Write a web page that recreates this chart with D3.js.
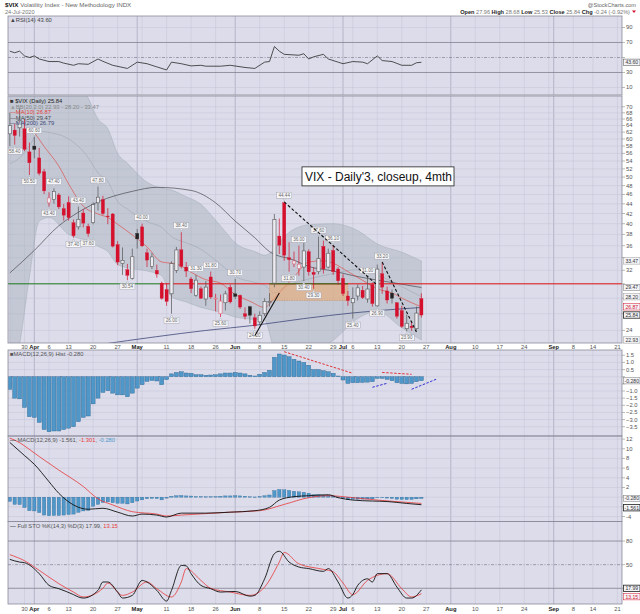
<!DOCTYPE html>
<html>
<head>
<meta charset="utf-8">
<style>
  body { margin: 0; background: #fff; }
  svg { display: block; font-family: 'Liberation Sans', Arial, sans-serif; }
</style>
</head>
<body>
<svg width="640" height="614"></svg>
<script src="https://d3js.org/d3.v7.min.js"></script>
<script>
// ---- daily candles, Mar 25 .. Jul 24 2020 (one entry per trading day)
const opens  = [61.5,62.6,63.3,63.0,56.4,58.0,54.8,51.3,44.2,44.9,45.9,43.0,44.3,40.2,39.4,42.1,39.5,40.2,44.2,44.9,
                41.5,41.9,36.2,33.1,32.1,30.8,38.2,39.4,34.8,32.6,32.0,30.1,29.2,28.6,32.0,35.3,32.5,30.7,28.4,29.3,
                27.9,31.0,27.9,26.0,27.4,29.5,28.6,28.4,26.0,26.9,25.5,25.0,26.0,27.5,30.1,37.7,44.2,34.0,33.0,32.3,
                32.5,35.0,31.7,31.8,35.9,32.5,35.2,32.2,30.8,28.3,27.4,28.3,29.1,27.9,29.9,27.0,31.5,29.0,28.7,27.4,
                26.4,24.2,24.5,24.2,27.96];
const highs  = [68.0,64.5,69.5,66.0,59.0,60.6,57.5,52.0,46.5,47.4,46.3,44.0,45.6,40.8,43.4,42.9,40.0,44.3,47.8,45.7,
                43.1,42.1,36.8,35.7,33.0,35.5,39.0,40.0,35.5,34.8,32.9,30.3,30.1,33.4,35.8,38.4,33.3,31.0,31.3,29.6,
                30.4,31.8,28.6,28.5,29.0,29.9,30.7,28.5,26.8,27.0,26.0,26.3,28.0,28.7,41.9,41.0,44.44,36.6,35.0,36.0,
                36.5,35.4,32.5,37.6,36.9,35.5,36.1,32.5,31.4,29.0,29.5,29.9,29.7,31.0,30.2,32.9,33.2,29.6,29.2,27.5,
                27.0,25.9,25.1,26.9,28.68];
const lows   = [58.0,58.4,60.7,56.6,50.5,54.7,50.4,46.1,43.4,44.0,42.9,40.6,40.6,37.4,38.9,39.3,37.6,39.9,42.6,41.7,
                39.9,35.7,32.8,31.3,30.54,30.6,35.5,35.8,32.5,32.2,30.9,27.8,27.0,26.0,31.6,32.3,31.0,28.7,28.2,27.9,
                27.0,27.9,26.3,25.6,26.4,27.3,27.9,26.6,25.3,24.8,24.2,24.6,25.7,26.9,29.5,34.6,33.5,31.8,32.5,31.2,
                30.4,31.2,29.3,31.4,31.5,32.3,31.3,29.9,28.3,27.0,25.4,27.7,27.9,27.4,26.9,26.9,28.6,27.3,27.3,25.4,
                24.3,23.9,23.95,24.0,25.53];
const closes = [63.95,61.00,65.54,57.08,53.54,57.06,50.91,46.80,45.24,46.70,43.35,41.67,41.17,37.76,40.84,40.11,38.15,43.83,45.41,41.98,
                41.38,35.93,33.29,33.57,31.23,34.15,37.19,35.97,33.61,34.12,31.44,27.98,27.57,33.04,35.28,32.61,31.89,29.30,30.53,27.99,
                29.53,28.16,28.01,27.62,28.59,27.51,28.23,26.84,25.66,25.81,24.52,25.81,27.57,27.57,40.79,36.09,34.40,33.67,33.47,32.94,
                35.12,31.77,31.37,33.84,32.22,34.73,31.78,30.43,28.62,27.68,27.94,29.43,28.08,29.26,27.29,32.19,29.52,27.76,28.00,25.68,
                24.46,24.84,24.32,26.08,25.84];
const prevClose = 61.67;

// ---- swing high / low tags
const swingDates = ["03-26","03-31","04-01","04-06","04-07","04-14","04-15","04-17","04-21","04-29","05-04","05-12","05-14","05-19","05-22",
                    "05-27","06-01","06-05","06-15","06-16","06-18","06-19","06-23","06-24","06-29","07-06","07-09","07-13","07-14","07-21"];
const swingKinds = ["L","L","H","L","H","L","H","L","H","L","H","L","H","H","H",
                    "L","H","L","H","L","H","L","L","H","H","L","H","L","H","L"];

// ---- overlays
const ma10 = [["04-01",61.9],["04-03",57.9],["04-08",52.7],["04-13",48.4],["04-16",43.5],["04-21",41.9],
              ["04-23",41.2],["04-27",39.9],["04-30",37.9],["05-05",35.8],["05-08",33.3],["05-13",33.0],["05-18",31.7],["05-21",30.6],
              ["05-27",30.1],["06-01",28.5],["06-04",27.6],["06-09",26.8],["06-11",28.0],["06-15",29.5],["06-17",31.0],["06-22",33.3],
              ["06-25",33.5],["06-29",33.1],["07-02",31.8],["07-08",30.5],["07-13",29.3],["07-16",28.7],["07-21",27.7],["07-24",26.87]];
const ma50 = [["03-25",31.6],["04-01",35.2],["04-08",39.6],["04-13",41.0],["04-21",44.4],["04-30",46.7],["05-07",47.6],["05-18",46.9],
              ["05-26",44.2],["06-01",40.5],["06-05",37.4],["06-10",35.0],["06-17",33.6],["06-22",32.6],["06-29",31.9],["07-06",31.2],
              ["07-15",30.3],["07-24",29.47]];
const ma200 = [["03-25",20.9],["04-21",22.4],["05-07",23.3],["05-21",24.0],["06-05",24.6],["06-19",25.4],["07-06",26.1],["07-24",26.79]];

const bbDates = ["03-25","03-27","03-31","04-02","04-06","04-13","04-17","04-21","04-23","04-27","04-29","05-05","05-08","05-12","05-15",
                 "05-20","05-22","05-28","06-01","06-05","06-09","06-11","06-15","06-22","06-29","07-07","07-13","07-20","07-24"];
const bbUpper = [87.6,87.0,85.0,84.0,82.6,82.0,73.0,66.0,63.0,56.0,53.4,48.8,47.4,47.0,45.5,
                 43.9,41.8,38.5,36.5,35.0,34.4,35.4,37.6,39.8,40.0,38.7,36.3,34.9,33.47];
const bbMid   = [53.3,54.8,58.0,62.3,61.9,60.0,54.9,51.0,49.0,44.5,42.9,40.4,39.3,37.6,36.5,
                 35.4,34.2,32.3,31.1,30.2,29.8,28.7,29.5,30.7,31.5,32.1,31.3,29.6,28.20];
const bbLower = [19.0,22.5,31.0,40.5,41.2,38.0,36.8,35.9,35.0,32.9,32.4,31.9,31.2,28.2,27.5,
                 26.8,26.5,26.0,25.6,25.3,25.2,22.0,21.4,21.6,22.9,25.4,26.3,24.3,22.93];

// ---- RSI(14)
const rsi = [["03-25",58.4],["03-26",56.3],["03-27",58.4],["03-30",52.1],["03-31",50.0],["04-01",52.1],["04-02",48.0],["04-06",44.6],
             ["04-08",44.6],["04-09",42.5],["04-14",39.6],["04-15",41.7],["04-17",40.9],["04-21",48.0],["04-22",44.9],["04-24",39.6],
             ["04-29",35.4],["05-01",43.8],["05-05",41.7],["05-07",37.5],["05-11",33.4],["05-12",43.8],["05-14",41.7],["05-18",38.8],
             ["05-20",39.6],["05-21",38.4],["05-27",38.4],["05-29",39.6],["06-03",36.7],["06-05",35.4],["06-09",43.8],["06-10",44.6],
             ["06-11",64.6],["06-12",58.4],["06-15",54.2],["06-18",53.0],["06-19",55.0],["06-22",48.0],["06-23",50.9],["06-25",54.2],
             ["06-26",48.0],["06-30",43.8],["07-01",41.7],["07-06",44.6],["07-08",43.8],["07-09",41.7],["07-13",52.1],["07-14",45.9],
             ["07-16",44.6],["07-20",39.6],["07-22",39.6],["07-23",43.0],["07-24",43.6]];

// ---- MACD(12,26,9)
const macdHist = [-0.88,-1.5,-1.55,-2.15,-2.8,-2.85,-3.2,-3.7,-3.85,-3.8,
                  -3.8,-3.7,-3.6,-3.5,-3.15,-2.85,-2.75,-1.9,-1.5,-1.1,
                  -0.98,-1.15,-1.27,-1.27,-1.4,-1.15,-0.8,-0.56,-0.33,-0.26,
                  -0.3,-0.56,-0.2,0.2,0.3,0.35,0.26,0.24,0.14,0.14,
                  0.1,0.12,0.14,0.2,0.26,0.26,0.3,0.26,0.2,0.1,
                  0.05,0.17,0.3,0.45,1.36,1.59,1.52,1.4,1.22,1.1,
                  1.0,0.8,0.5,0.5,0.42,0.35,0.24,0.05,-0.23,-0.47,
                  -0.42,-0.42,-0.4,-0.38,-0.35,-0.12,-0.12,-0.19,-0.28,-0.42,
                  -0.47,-0.5,-0.47,-0.35,-0.28];
const macdLine = [["03-25",11.3],["03-30",8.6],["04-01",6.8],["04-06",3.2],["04-08",0.8],["04-14",-1.6],["04-17",-2.5],["04-22",-2.3],
                  ["04-27",-3.1],["04-30",-3.9],["05-04",-3.5],["05-07",-3.7],["05-11",-4.1],["05-14",-3.3],["05-21",-3.3],["05-29",-3.1],
                  ["06-05",-2.8],["06-10",-2.1],["06-12",-0.6],["06-17",0.1],["06-22",0.3],["06-26",0.5],["06-30",-0.1],["07-06",-0.6],
                  ["07-10",-0.8],["07-15",-0.9],["07-21",-1.3],["07-24",-1.561]];
const macdSignal = [["03-25",12.2],["03-26",11.8],["04-02",8.4],["04-08",5.6],["04-16",2.2],["04-21",-0.35],["04-24",-1.6],["04-30",-3.0],
                    ["05-07",-3.5],["05-11",-3.9],["05-14",-3.7],["05-21",-3.4],["05-29",-3.1],["06-08",-2.8],["06-15",-1.5],["06-22",-0.1],
                    ["06-26",0.3],["07-06",-0.1],["07-13",-0.6],["07-20",-1.0],["07-24",-1.301]];

// ---- Full STO %K(14,3) %D(3)
const stoK = [["03-25",56.7],["03-27",53.3],["03-30",52.5],["04-02",38.6],["04-06",23.7],["04-08",19.5],["04-14",12],["04-15",9],
              ["04-16",7.6],["04-21",17.4],["04-22",28],["04-23",28],["04-27",15.2],["04-28",7.6],["04-30",11],["05-04",30],
              ["05-05",28],["05-07",17.4],["05-11",3.8],["05-12",17.4],["05-14",49],["05-15",48.5],["05-18",38.6],["05-20",23.7],
              ["05-22",19.5],["05-27",15.2],["06-01",16],["06-04",10],["06-05",11],["06-09",32],["06-11",64],["06-12",67],
              ["06-16",53.3],["06-18",47],["06-22",45],["06-25",41.5],["06-26",45],["06-30",28],["07-02",7.6],["07-06",12],
              ["07-07",23.7],["07-09",32],["07-10",28],["07-13",38.6],["07-15",38.6],["07-17",21.6],["07-21",7.6],["07-22",7.6],
              ["07-24",17.99]];
const stoD = [["03-25",62.7],["03-30",55],["04-02",42.8],["04-08",25.9],["04-14",15.2],["04-16",9],["04-22",20],["04-23",26.7],
              ["04-28",11],["04-30",15.2],["05-05",28],["05-07",19.5],["05-12",9],["05-14",28],["05-15",45],["05-20",30],
              ["05-22",20],["05-29",15.2],["06-04",11],["06-09",21.6],["06-12",53.3],["06-15",65.5],["06-18",51],["06-25",44],
              ["06-29",41],["07-01",26.7],["07-06",12],["07-09",30],["07-15",38.6],["07-20",19.5],["07-22",9],["07-24",13.15]];

// ---- annotations drawn on the chart
const trendUp = [["06-05",23.4],["06-12",28.7]];
const trendDown1 = [["06-15",44.4],["07-13",29.8]];
const trendDown2 = [["07-14",33.3],["07-23",23.8]];
const histRed1 = [["06-15",1.75],["07-06",0.24]];
const histRed2 = [["07-14",0.3],["07-22",0.17]];
const histBlue1 = [["07-10",-0.74],["07-15",-0.46]];
const histBlue2 = [["07-22",-0.88],["07-29",-0.18]];
const zoneDates = ["06-10","07-02"];
const zoneValues = [30, 27.7];
const level = 30;
const levelSwitch = "05-08";

// ---- date axis
const tickDates  = ["03-30","04-01","04-06","04-13","04-20","04-27","05-01","05-11","05-18","05-26","06-01","06-08","06-15","06-22",
                    "06-29","07-01","07-06","07-13","07-20","07-27","08-03","08-10","08-17","08-24","09-01","09-08","09-14","09-21"];
const tickLabels = ["30","Apr","6","13","20","27","May","11","18","26","Jun","8","15","22",
                    "29","Jul","6","13","20","27","Aug","10","17","24","Sep","8","14","21"];
const extraGrid = ["05-04","08-31"];
const holidays = ["2020-04-10","2020-05-25","2020-07-03","2020-09-07"];

// trading calendar
const days = [];
for (let d = new Date(Date.UTC(2020, 2, 25)); d <= new Date(Date.UTC(2020, 8, 22)); d.setUTCDate(d.getUTCDate() + 1)) {
  const wd = d.getUTCDay();
  const iso = d.toISOString().slice(0, 10);
  if (wd === 0 || wd === 6 || holidays.includes(iso)) continue;
  days.push(iso.slice(5));
}

const svg = d3.select("svg");
const L = 8, R = 622;
const x = d3.scaleLinear().domain([-0.37, days.length - 1.06]).range([L, R]);
const xd = d => x(days.indexOf(d));

const panels = {
  rsi:  {top: 16,    bottom: 95},
  main: {top: 96,    bottom: 343},
  hist: {top: 350,   bottom: 436},
  macd: {top: 436,   bottom: 521.5},
  sto:  {top: 521.5, bottom: 604}
};
const yRsi  = d3.scaleLinear().domain([0, 105.3]).range([95, 16]);
const yMain = d3.scaleLog().domain([22.6, 73.7]).range([343, 96]);
const yHist = d3.scaleLinear().domain([-4.15, 1.87]).range([436, 350]);
const yMacd = d3.scaleLinear().domain([-5.03, 12.64]).range([521.5, 436]);
const ySto  = d3.scaleLinear().domain([0.06, 104.8]).range([604, 521.5]);

const BG = "#dcdcea", GRID = "#c4c4d8", RED = "#d4102c";

// value boxes on the right axis: [scale, value, label, colour, strong, nudge]
const boxes = {
  main: [[yMain, 33.47, "33.47", "#999"], [yMain, 29.47, "29.47", "#777"], [yMain, 28.20, "28.20", "#999"],
         [yMain, 26.87, "26.87", RED], [yMain, 25.84, "25.84", "#222", true], [yMain, 22.93, "22.93", "#999"]],
  rsi:  [[yRsi, 43.60, "43.60", "#444"]],
  hist: [[yHist, -0.280, "-0.280", "#777"]],
  macd: [[yMacd, -0.280, "-0.280", "#777"], [yMacd, -1.561, "-1.561", "#222", true, 3]],
  sto:  [[ySto, 17.99, "17.99", "#222", true, -1.5], [ySto, 13.15, "13.15", RED, false, 3]]
};
const boxY = b => b[0](b[1]) + (b[5] || 0);

const defs = svg.append("defs");
Object.entries(panels).forEach(([k, p]) => {
  defs.append("clipPath").attr("id", "clip-" + k)
    .append("rect").attr("x", L).attr("y", p.top).attr("width", R - L).attr("height", p.bottom - p.top);
  svg.append("rect").attr("x", L).attr("y", p.top).attr("width", R - L).attr("height", p.bottom - p.top)
    .attr("fill", BG);
});

// vertical grid
const monthStarts = ["04-01","05-01","06-01","07-01","08-03","09-01"];
const gridG = svg.append("g");
tickDates.concat(extraGrid).forEach(d => {
  const month = monthStarts.includes(d);
  Object.values(panels).forEach(p => {
    gridG.append("line").attr("x1", xd(d)).attr("x2", xd(d)).attr("y1", p.top).attr("y2", p.bottom)
      .attr("stroke", month ? "#a4a4ba" : GRID).attr("stroke-width", month ? 0.7 : 0.5);
  });
});

function hGrid(y, vals, color, width, dash) {
  vals.forEach(v => {
    gridG.append("line").attr("x1", L).attr("x2", R).attr("y1", y(v)).attr("y2", y(v))
      .attr("stroke", color || GRID).attr("stroke-width", width || 0.5)
      .attr("stroke-dasharray", dash || null);
  });
}
function rightLabels(y, vals, key, fmt) {
  const taken = boxes[key].map(boxY);
  vals.forEach(v => {
    svg.append("line").attr("x1", R).attr("x2", R + 3).attr("y1", y(v)).attr("y2", y(v))
      .attr("stroke", "#777").attr("stroke-width", 0.5);
    if (taken.some(t => Math.abs(t - y(v)) < 6)) return;
    svg.append("text").attr("x", R + 4).attr("y", y(v) + 2).attr("font-size", 5.8).attr("fill", "#555")
      .text(fmt ? fmt(v) : v);
  });
}

const mainTicks = d3.range(24, 71, 2);
hGrid(yMain, mainTicks);
hGrid(yRsi, [10, 90]);
hGrid(yRsi, [30, 70], "#80808f", 0.8);
hGrid(yRsi, [50], "#80808f", 0.7, "3,1.5,1,1.5");
const histTicks = [-3.5,-3,-2.5,-2,-1.5,-1,-0.5,0,0.5,1,1.5];
hGrid(yHist, histTicks);
const macdTicks = [-4,-2,0,2,4,6,8,10,12];
hGrid(yMacd, macdTicks);
hGrid(ySto, [20, 80], "#80808f", 0.8);
hGrid(ySto, [50], "#80808f", 0.7, "3,1.5,1,1.5");

rightLabels(yRsi, [10, 30, 50, 70, 90], "rsi");
rightLabels(yMain, mainTicks, "main");
rightLabels(yHist, histTicks, "hist", d3.format(".1f"));
rightLabels(yMacd, macdTicks, "macd");
rightLabels(ySto, [20, 50, 80], "sto");

function pairPath(g, pts, y, color, width, curve, dash) {
  return g.append("path").datum(pts)
    .attr("d", d3.line().x(p => xd(p[0])).y(p => y(p[1])).curve(curve || d3.curveMonotoneX))
    .attr("fill", "none").attr("stroke", color).attr("stroke-width", width)
    .attr("stroke-dasharray", dash || null);
}

// ---------- main panel
const gm = svg.append("g").attr("clip-path", "url(#clip-main)");
const bbIdx = d3.range(bbDates.length);
gm.append("path").datum(bbIdx)
  .attr("d", d3.area().x(i => xd(bbDates[i])).y0(i => yMain(bbLower[i])).y1(i => yMain(bbUpper[i])).curve(d3.curveMonotoneX))
  .attr("fill", "#a9b3bd").attr("fill-opacity", 0.5).attr("stroke", "#9aa3ad").attr("stroke-width", 0.4);
gm.append("path").datum(bbIdx)
  .attr("d", d3.line().x(i => xd(bbDates[i])).y(i => yMain(bbMid[i])).curve(d3.curveMonotoneX))
  .attr("fill", "none").attr("stroke", "#a0a8b2").attr("stroke-width", 0.6);

pairPath(gm, ma200, yMain, "#404878", 0.8);
pairPath(gm, ma50, yMain, "#4a4a52", 0.7);
pairPath(gm, ma10, yMain, "#e0403a", 0.6);

// support zone
gm.append("rect").attr("x", xd(zoneDates[0])).attr("y", yMain(zoneValues[0]))
  .attr("width", xd(zoneDates[1]) - xd(zoneDates[0])).attr("height", yMain(zoneValues[1]) - yMain(zoneValues[0]))
  .attr("fill", "#f0a868").attr("fill-opacity", 0.55).attr("stroke", "#c08860").attr("stroke-width", 0.5)
  .attr("stroke-dasharray", "1.5,1");

// level line
gm.append("line").attr("x1", L).attr("x2", xd(levelSwitch)).attr("y1", yMain(level)).attr("y2", yMain(level))
  .attr("stroke", "#1f7a1f").attr("stroke-width", 1);
gm.append("line").attr("x1", xd(levelSwitch)).attr("x2", R).attr("y1", yMain(level)).attr("y2", yMain(level))
  .attr("stroke", "#e01010").attr("stroke-width", 1);
gm.append("line").attr("x1", xd(zoneDates[0])).attr("x2", xd(zoneDates[1])).attr("y1", yMain(level)).attr("y2", yMain(level))
  .attr("stroke", "#1f7a1f").attr("stroke-width", 1);

// candles
const bw = 3.2;
closes.forEach((c, i) => {
  const o = opens[i], pc = i === 0 ? prevClose : closes[i - 1];
  const down = c < pc;
  const filled = c < o;
  const col = down ? RED : "#222";
  const cx = x(i);
  const top = yMain(Math.max(o, c)), bot = yMain(Math.min(o, c));
  gm.append("line").attr("x1", cx).attr("x2", cx).attr("y1", yMain(highs[i])).attr("y2", top)
    .attr("stroke", down ? RED : "#555").attr("stroke-width", 0.7);
  gm.append("line").attr("x1", cx).attr("x2", cx).attr("y1", bot).attr("y2", yMain(lows[i]))
    .attr("stroke", down ? RED : "#555").attr("stroke-width", 0.7);
  gm.append("rect").attr("x", cx - bw / 2).attr("y", top).attr("width", bw).attr("height", Math.max(0.8, bot - top))
    .attr("fill", filled ? col : "#ececf2").attr("stroke", filled ? col : (down ? "#e07080" : "#555"))
    .attr("stroke-width", filled ? 0.3 : 0.6);
});

// swing tags
swingDates.forEach((d, k) => {
  const i = days.indexOf(d), hi = swingKinds[k] === "H";
  const v = hi ? highs[i] : lows[i];
  const cx = x(i), cy = yMain(v);
  const by = hi ? cy - 9.5 : cy + 3.5;
  gm.append("path")
    .attr("d", hi ? `M${cx - 1.5},${cy - 3.6}L${cx + 1.5},${cy - 3.6}L${cx},${cy - 1.2}Z`
                  : `M${cx - 1.5},${cy + 3.6}L${cx + 1.5},${cy + 3.6}L${cx},${cy + 1.2}Z`)
    .attr("fill", "#f4f4f8").attr("stroke", "#9a9aa6").attr("stroke-width", 0.4);
  gm.append("rect").attr("x", cx - 7.5).attr("y", by).attr("width", 15).attr("height", 6)
    .attr("fill", "#f6f6f9").attr("stroke", "#9a9aa6").attr("stroke-width", 0.4);
  gm.append("text").attr("x", cx).attr("y", by + 4.6).attr("text-anchor", "middle")
    .attr("font-size", 4.6).attr("fill", "#666").text(d3.format(".2f")(v));
});

// trend lines
pairPath(gm, trendUp, yMain, "#111", 1.1, d3.curveLinear);
pairPath(gm, trendDown1, yMain, "#111", 1.1, d3.curveLinear, "3,2");
pairPath(gm, trendDown2, yMain, "#111", 1.1, d3.curveLinear, "3,2");

// note box
const noteX = xd("06-19") - 1.8, noteY = yMain(52.5);
gm.append("rect").attr("x", noteX).attr("y", noteY).attr("width", 152).attr("height", 19)
  .attr("fill", "#fff").attr("stroke", "#222").attr("stroke-width", 0.8);
gm.append("text").attr("x", noteX + 3).attr("y", noteY + 14).attr("font-size", 12).attr("fill", "#111")
  .text("VIX - Daily'3, closeup, 4mth");

// legend
const lg = svg.append("g");
const legRows = [
  [{t: "\u25A0 ", c: "#333"}, {t: "$VIX (Daily) 25.84", c: "#222"}],
  [{t: "\u25B2", c: "#999"}, {t: "BB(20,2.0) 22.93 - 28.20 - 33.47", c: "#888"}],
  [{t: "\u2014", c: "#e0403a"}, {t: "MA(10) 26.87", c: "#e0403a"}],
  [{t: "\u2014", c: "#4a4a52"}, {t: "MA(50) 29.47", c: "#4a4a52"}],
  [{t: "\u2014", c: "#404878"}, {t: "MA(200) 26.79", c: "#404878"}]
];
legRows.forEach((row, r) => {
  const t = lg.append("text").attr("x", 10).attr("y", 103 + r * 5.6).attr("font-size", 5.8);
  row.forEach(s => t.append("tspan").attr("fill", s.c).text(s.t));
});

// ---------- RSI
const gr = svg.append("g").attr("clip-path", "url(#clip-rsi)");
pairPath(gr, rsi, yRsi, "#2a2a2a", 0.8, d3.curveLinear);
svg.append("text").attr("x", 10).attr("y", 22).attr("font-size", 5.8).attr("fill", "#444")
  .text("\u25B2RSI(14) 43.60");

// ---------- MACD histogram panel
const gh = svg.append("g").attr("clip-path", "url(#clip-hist)");
macdHist.forEach((v, i) => {
  gh.append("rect").attr("x", x(i) - 2).attr("width", 4)
    .attr("y", yHist(Math.max(0, v))).attr("height", Math.abs(yHist(v) - yHist(0)))
    .attr("fill", "#4f97c9").attr("stroke", "#2d6390").attr("stroke-width", 0.4);
});
pairPath(gh, histRed1, yHist, "#e02020", 0.9, d3.curveLinear, "2.5,1.5");
pairPath(gh, histRed2, yHist, "#e02020", 0.9, d3.curveLinear, "2.5,1.5");
pairPath(gh, histBlue1, yHist, "#2020d0", 0.9, d3.curveLinear, "2.5,1.5");
pairPath(gh, histBlue2, yHist, "#2020d0", 0.9, d3.curveLinear, "2.5,1.5");
svg.append("text").attr("x", 10).attr("y", 356).attr("font-size", 5.8).attr("fill", "#555")
  .text("\u25A0MACD(12,26,9) Hist -0.280");

// ---------- MACD panel
const gc = svg.append("g").attr("clip-path", "url(#clip-macd)");
macdHist.forEach((v, i) => {
  gc.append("rect").attr("x", x(i) - 1.7).attr("width", 3.4)
    .attr("y", yMacd(Math.max(0, v))).attr("height", Math.max(0.6, Math.abs(yMacd(v) - yMacd(0))))
    .attr("fill", "#4f97c9").attr("stroke", "#2d6390").attr("stroke-width", 0.3);
});
pairPath(gc, macdSignal, yMacd, "#e83838", 0.8);
pairPath(gc, macdLine, yMacd, "#111", 0.9);
const mt = svg.append("text").attr("x", 10).attr("y", 442).attr("font-size", 5.8);
mt.append("tspan").attr("fill", "#111").text("\u2014");
mt.append("tspan").attr("fill", "#555").text(" MACD(12,26,9) -1.561, ");
mt.append("tspan").attr("fill", "#e83838").text("-1.301");
mt.append("tspan").attr("fill", "#555").text(", ");
mt.append("tspan").attr("fill", "#4f97c9").text("-0.280");

// ---------- STO panel
const gs = svg.append("g").attr("clip-path", "url(#clip-sto)");
pairPath(gs, stoD, ySto, "#e83838", 0.8);
pairPath(gs, stoK, ySto, "#111", 0.9);
const st = svg.append("text").attr("x", 10).attr("y", 528).attr("font-size", 5.8);
st.append("tspan").attr("fill", "#111").text("\u2014");
st.append("tspan").attr("fill", "#555").text(" Full STO %K(14,3) %D(3) 17.99, ");
st.append("tspan").attr("fill", "#e83838").text("13.15");

// panel borders
Object.values(panels).forEach(p => {
  svg.append("rect").attr("x", L).attr("y", p.top).attr("width", R - L).attr("height", p.bottom - p.top)
    .attr("fill", "none").attr("stroke", "#8a8a9c").attr("stroke-width", 0.8);
});

// right value boxes
Object.values(boxes).forEach(list => list.forEach(b => {
  const yv = boxY(b), color = b[3], strong = b[4];
  svg.append("rect").attr("x", R + 1.5).attr("y", yv - 3.2).attr("width", 16.5).attr("height", 6.4)
    .attr("fill", "#f4f4f8").attr("stroke", color).attr("stroke-width", strong ? 0.8 : 0.5);
  svg.append("text").attr("x", R + 9.75).attr("y", yv + 1.9).attr("text-anchor", "middle")
    .attr("font-size", 5.1).attr("fill", color === RED ? RED : "#333").text(b[2]);
}));

// date axes
function dateAxis(yb) {
  tickDates.forEach((d, k) => {
    const lab = tickLabels[k];
    const month = /[A-Za-z]/.test(lab);
    svg.append("text").attr("x", xd(d)).attr("y", yb).attr("text-anchor", "middle")
      .attr("font-size", 5.8).attr("font-weight", month ? "bold" : "normal")
      .attr("fill", month ? "#222" : "#555").text(lab);
  });
}
dateAxis(349);
dateAxis(611);

// header
const h1 = svg.append("text").attr("x", 5).attr("y", 7).attr("font-size", 6.2);
h1.append("tspan").attr("font-weight", "bold").attr("fill", "#111").text("$VIX ");
h1.append("tspan").attr("fill", "#666").text("Volatility Index - New Methodology  INDX");
svg.append("text").attr("x", 5).attr("y", 13.5).attr("font-size", 5.6).attr("fill", "#777").text("24-Jul-2020");
svg.append("text").attr("x", 636).attr("y", 7).attr("text-anchor", "end").attr("font-size", 5.6).attr("fill", "#666")
  .text("@StockCharts.com");
const h2 = svg.append("text").attr("x", 630).attr("y", 13.5).attr("text-anchor", "end").attr("font-size", 5.6);
[["Open ", true], ["27.96 ", false], ["High ", true], ["28.68 ", false], ["Low ", true], ["25.53 ", false],
 ["Close ", true], ["25.84 ", false], ["Chg ", true], ["-0.24 (-0.92%)", false]].forEach(([t, b]) => {
  h2.append("tspan").attr("font-weight", b ? "bold" : "normal").attr("fill", b ? "#222" : "#777").text(t);
});
svg.append("path").attr("d", "M632,10.5L636,10.5L634,13Z").attr("fill", RED);
</script>
</body>
</html>
